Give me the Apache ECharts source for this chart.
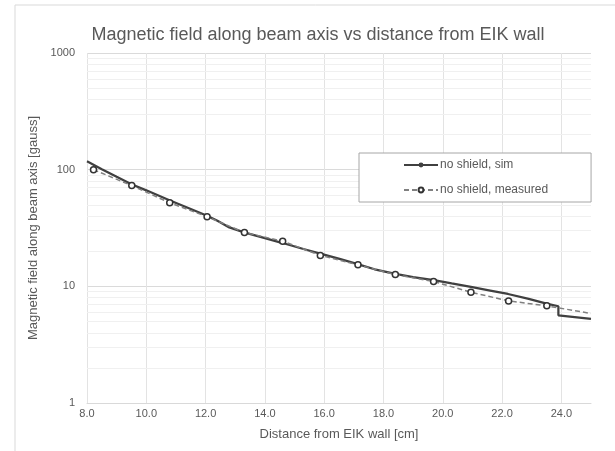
<!DOCTYPE html>
<html>
<head>
<meta charset="utf-8">
<script src="https://cdn.jsdelivr.net/npm/echarts@6/dist/echarts.min.js"></script>
<style>
  html, body { margin: 0; padding: 0; background: #fff; }
  #chart { width: 615px; height: 451px; }
</style>
</head>
<body>
<div id="chart"></div>
<script>
// simulated field, no shield (step near 23.9 cm)
const simX = [8.0, 8.5, 9.0, 9.5, 10.0, 10.8, 11.5, 12.05, 12.4, 12.8, 13.3, 14.0, 14.6, 15.3, 15.9, 16.55, 17.1, 17.7, 18.4, 19.0, 19.7, 20.3, 20.95, 21.6, 22.2, 22.9, 23.5, 23.9, 23.9, 25.0];
const simY = [118, 101, 87, 75, 66.5, 54.5, 46, 40.3, 36.5, 32, 29, 25.9, 23.5, 20.9, 19.0, 17.1, 15.6, 14.0, 12.8, 12.0, 11.3, 10.6, 9.9, 9.2, 8.6, 7.8, 7.1, 6.75, 5.65, 5.25];

// measured points, no shield
const measX = [8.22, 9.51, 10.79, 12.05, 13.31, 14.60, 15.87, 17.14, 18.40, 19.69, 20.95, 22.22, 23.51];
const measY = [100, 73, 52, 39.5, 28.9, 24.4, 18.4, 15.3, 12.6, 11.0, 8.9, 7.5, 6.8];
// dashed line keeps going to the plot edge (no marker there)
const measTailX = 25.0;
const measTailY = 5.85;

// minor log grid lines
const minorGrid = [2, 3, 4, 5, 6, 7, 8, 9, 20, 30, 40, 50, 60, 70, 80, 90, 200, 300, 400, 500, 600, 700, 800, 900];

const FONT = 'Liberation Sans, Arial, sans-serif';
const TXT = '#595959';

const chart = echarts.init(document.getElementById('chart'));

const measData = measX.map((x, i) => [x, measY[i]]);
measData.push({ value: [measTailX, measTailY], symbol: 'none' });

const option = {
  animation: false,
  backgroundColor: '#fff',
  graphic: [{
    type: 'rect',
    shape: { x: 15, y: 5, width: 700, height: 500 },
    style: { fill: 'none', stroke: '#d9d9d9', lineWidth: 1 },
    silent: true,
    z: -1
  }],
  title: {
    text: 'Magnetic field along beam axis vs distance from EIK wall',
    left: 313,
    top: 21,
    textAlign: 'center',
    textStyle: { fontFamily: FONT, fontSize: 18, fontWeight: 'normal', color: TXT }
  },
  legend: {
    orient: 'vertical',
    left: 359,
    top: 153,
    z: 10,
    padding: [6, 43, 6, 44],
    itemWidth: 34,
    itemHeight: 6,
    itemGap: 13,
    borderColor: '#a6a6a6',
    borderWidth: 1,
    backgroundColor: '#fff',
    textStyle: { fontFamily: FONT, fontSize: 12, color: TXT, padding: [0, 0, 0, -3] },
    data: ['no shield, sim', 'no shield, measured']
  },
  grid: { left: 87, right: 24, top: 53, bottom: 48 },
  xAxis: {
    type: 'value',
    min: 8,
    max: 25,
    interval: 2,
    name: 'Distance from EIK wall [cm]',
    nameLocation: 'middle',
    nameGap: 25,
    nameTextStyle: { fontFamily: FONT, fontSize: 13, color: TXT },
    axisLine: { show: true, lineStyle: { color: '#d9d9d9' } },
    axisTick: { show: false },
    axisLabel: {
      fontFamily: FONT, fontSize: 11, color: TXT, margin: 5,
      showMaxLabel: false,
      formatter: v => v.toFixed(1)
    },
    splitLine: { show: true, showMaxLine: false, lineStyle: { color: '#e3e3e3' } }
  },
  yAxis: {
    type: 'log',
    logBase: 10,
    min: 1,
    max: 1000,
    name: 'Magnetic field along beam axis [gauss]',
    nameLocation: 'middle',
    nameGap: 40,
    nameTextStyle: { fontFamily: FONT, fontSize: 13, color: TXT },
    axisLine: { show: false },
    axisTick: { show: false },
    axisLabel: { fontFamily: FONT, fontSize: 11, color: TXT, margin: 12, formatter: v => String(v) },
    splitLine: { show: true, lineStyle: { color: '#dadada' } }
  },
  series: [
    {
      // minor grid only
      name: 'minor',
      type: 'line',
      data: [],
      z: 1,
      silent: true,
      markLine: {
        z: 1,
        silent: true,
        symbol: 'none',
        label: { show: false },
        lineStyle: { color: '#f0f0f0', type: 'solid', width: 1 },
        data: minorGrid.map(v => ({ yAxis: v }))
      }
    },
    {
      name: 'no shield, sim',
      type: 'line',
      z: 3,
      symbol: 'circle',
      showSymbol: false,
      data: simX.map((x, i) => [x, simY[i]]),
      lineStyle: { color: '#404040', width: 2.25 },
      itemStyle: { color: '#404040' }
    },
    {
      name: 'no shield, measured',
      type: 'line',
      z: 4,
      symbol: 'circle',
      symbolSize: 6,
      data: measData,
      lineStyle: { color: '#808080', width: 1.5, type: [5, 3] },
      itemStyle: { color: '#fff', borderColor: '#333', borderWidth: 1.5 }
    }
  ]
};

chart.setOption(option);
</script>
</body>
</html>
